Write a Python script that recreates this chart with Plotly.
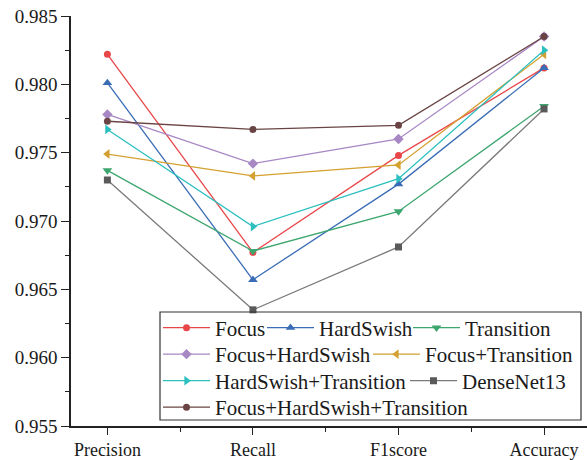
import plotly.graph_objects as go

categories = ["Precision", "Recall", "F1score", "Accuracy"]

focus = [0.9822, 0.9677, 0.9748, 0.9812]
hardswish = [0.9801, 0.9657, 0.9727, 0.9812]
transition = [0.9737, 0.9678, 0.9707, 0.9784]
focus_hardswish = [0.9778, 0.9742, 0.9760, 0.9835]
focus_transition = [0.9749, 0.9733, 0.9741, 0.9822]
hardswish_transition = [0.9767, 0.9696, 0.9731, 0.9825]
densenet13 = [0.9730, 0.9635, 0.9681, 0.9782]
focus_hardswish_transition = [0.9773, 0.9767, 0.9770, 0.9835]

series_names = ["Focus", "HardSwish", "Transition", "Focus+HardSwish",
                "Focus+Transition", "HardSwish+Transition", "DenseNet13",
                "Focus+HardSwish+Transition"]
series_values = [focus, hardswish, transition, focus_hardswish,
                 focus_transition, hardswish_transition, densenet13,
                 focus_hardswish_transition]
line_colors = ["#E8474A", "#3A6DB5", "#3DA66E", "#A787C4",
               "#D4A030", "#2BBFBF", "#7A7A7A", "#6A4444"]
marker_colors = ["#E8474A", "#3A6DB5", "#3DA66E", "#A787C4",
                 "#D4A030", "#2BBFBF", "#5A5A5A", "#6A4444"]
symbols = ["circle", "triangle-up", "triangle-down", "diamond",
           "triangle-left", "triangle-right", "square", "circle"]
marker_sizes = [7, 8.5, 8.5, 8, 8.5, 8.5, 7, 7]

FONT = "Liberation Serif"
W, H = 587, 460
ML, MR, MT, MB = 71, 0, 16, 34

pw = W - ML - MR
ph = H - MT - MB


def px_x(p):
    return (p - ML) / pw


def px_y(p):
    return (H - MB - p) / ph


# legend entry placement (pixel position of the start of each legend line, row centre)
entry_x = [163, 267, 413, 163, 373, 163, 410, 163]
entry_y = [328, 328, 328, 354.5, 354.5, 381, 381, 407.5]

fig = go.Figure()
xs = list(range(len(categories)))
legend_layout = {}
for i, (name, vals, lc, mc, sym, ms) in enumerate(zip(series_names, series_values, line_colors,
                                                        marker_colors, symbols, marker_sizes)):
    lid = "legend" if i == 0 else f"legend{i + 1}"
    fig.add_trace(go.Scatter(
        x=xs, y=vals, name=name, mode="lines+markers",
        line=dict(color=lc, width=1.3),
        marker=dict(color=mc, symbol=sym, size=ms, line=dict(width=0)),
        legend=lid,
    ))
    legend_layout[lid] = dict(
        orientation="h", xanchor="left", yanchor="middle",
        x=px_x(entry_x[i] - 5), y=px_y(entry_y[i]),
        font=dict(family=FONT, size=21, color="#1a1a1a"),
        bgcolor="rgba(0,0,0,0)", borderwidth=0, itemwidth=47,
        itemclick=False, itemdoubleclick=False,
    )

fig.update_layout(
    width=W, height=H,
    margin=dict(l=ML, r=MR, t=MT, b=MB),
    paper_bgcolor="white", plot_bgcolor="white",
    font=dict(family=FONT, size=18, color="#1a1a1a"),
    showlegend=True,
    xaxis=dict(
        range=[-0.25, 3.295], tickvals=xs, ticktext=categories,
        showgrid=False, zeroline=False, showline=True, linecolor="#222",
        linewidth=1.6, ticks="outside", ticklen=7, tickwidth=1.4, tickcolor="#222",
        tickfont=dict(family=FONT, size=18, color="#1a1a1a"),
        minor=dict(tick0=0.5, dtick=1, ticks="outside", ticklen=4, tickwidth=1.2,
                   tickcolor="#222", showgrid=False),
    ),
    yaxis=dict(
        range=[0.955, 0.985], dtick=0.005, tick0=0.955, tickformat=".3f",
        showgrid=False, zeroline=False, showline=True, linecolor="#222",
        linewidth=1.6, ticks="outside", ticklen=8, tickwidth=1.4, tickcolor="#222",
        tickfont=dict(family=FONT, size=19, color="#1a1a1a"),
        minor=dict(dtick=0.0025, tick0=0.955, ticks="outside", ticklen=4,
                   tickwidth=1.2, tickcolor="#222", showgrid=False),
    ),
    shapes=[dict(type="rect", xref="paper", yref="paper",
                 x0=px_x(160), x1=px_x(581), y0=px_y(420), y1=px_y(312),
                 line=dict(color="#333", width=1.2), fillcolor="rgba(0,0,0,0)",
                 layer="above")],
    **legend_layout,
)

fig.write_html("out.html", config={"displayModeBar": False},
               post_script="document.body.style.margin='0';")
